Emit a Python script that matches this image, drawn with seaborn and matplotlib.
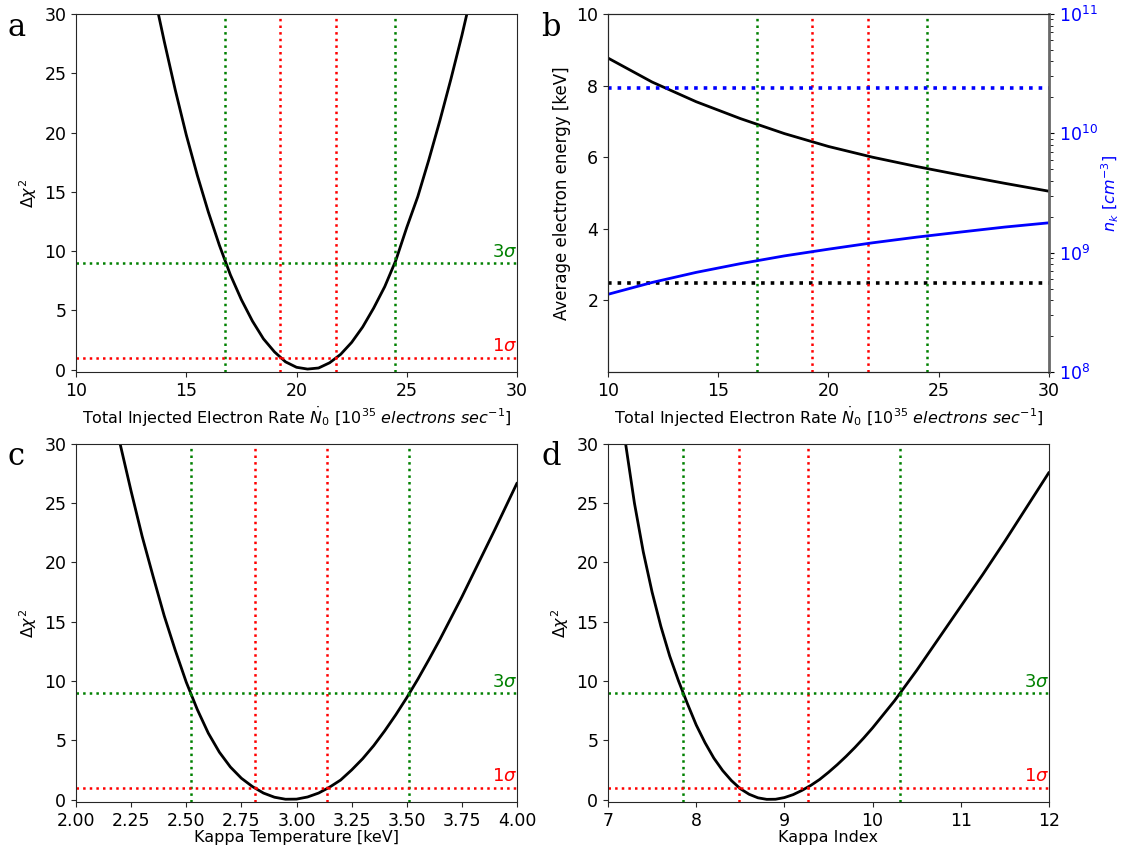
import matplotlib
matplotlib.use("Agg")
import matplotlib.pyplot as plt
import seaborn as sns

# ── Data ───────────────────────────────────────────────────────────────────────
# a: delta chi^2 vs total injected electron rate
rate_a = [13.7, 14.0, 14.5, 15.0, 15.5, 16.0, 16.5, 17.0, 17.5, 18.0, 18.5, 19.0, 19.5,
          20.0, 20.5, 21.0, 21.5, 22.0, 22.5, 23.0, 23.5, 24.0, 24.5, 25.0, 25.5, 26.0,
          26.5, 27.0, 27.5, 27.8]
dchi2_rate = [30.3, 27.7, 23.6, 19.8, 16.4, 13.3, 10.5, 8.0, 5.9, 4.1, 2.6, 1.5, 0.66,
              0.2, 0.05, 0.14, 0.58, 1.29, 2.3, 3.6, 5.2, 7.0, 9.2, 12.0, 14.6, 17.7,
              21.0, 24.5, 28.2, 30.6]

# b: average electron energy and kappa density vs rate
rate_b = [10, 12, 14, 16, 18, 20, 22, 24, 26, 28, 30]
avg_energy = [8.77, 8.1, 7.55, 7.08, 6.66, 6.3, 6.0, 5.74, 5.5, 5.27, 5.05]
density = [4.48e8, 5.63e8, 6.84e8, 8.09e8, 9.4e8, 1.07e9, 1.21e9, 1.35e9, 1.49e9,
           1.64e9, 1.78e9]
energy_limit = 2.5
density_limit = 2.4e10

# c: delta chi^2 vs kappa temperature
temp = [2.20, 2.25, 2.30, 2.35, 2.40, 2.45, 2.50, 2.55, 2.60, 2.65, 2.70, 2.75, 2.80,
        2.85, 2.90, 2.95, 3.00, 3.05, 3.10, 3.15, 3.20, 3.25, 3.30, 3.35, 3.40, 3.45,
        3.50, 3.55, 3.60, 3.65, 3.70, 3.75, 3.80, 3.85, 3.90, 3.95, 4.00]
dchi2_temp = [30.0, 26.0, 22.2, 18.8, 15.5, 12.6, 9.9, 7.6, 5.6, 4.0, 2.75, 1.8, 1.1,
              0.55, 0.2, 0.03, 0.04, 0.22, 0.55, 1.05, 1.65, 2.5, 3.45, 4.55, 5.8, 7.15,
              8.6, 10.15, 11.8, 13.5, 15.3, 17.1, 19.0, 20.9, 22.8, 24.75, 26.7]

# d: delta chi^2 vs kappa index
kappa = [7.2, 7.3, 7.4, 7.5, 7.6, 7.7, 7.8, 7.9, 8.0, 8.1, 8.2, 8.3, 8.4, 8.5, 8.6, 8.7,
         8.8, 8.9, 9.0, 9.1, 9.2, 9.3, 9.4, 9.5, 9.6, 9.7, 9.8, 9.9, 10.0, 10.25, 10.5,
         10.75, 11.0, 11.25, 11.5, 11.75, 12.0]
dchi2_kappa = [30.0, 25.0, 20.9, 17.5, 14.6, 12.1, 10.0, 8.1, 6.3, 4.8, 3.5, 2.45, 1.6,
               0.92, 0.45, 0.15, 0.02, 0.03, 0.17, 0.42, 0.78, 1.2, 1.7, 2.3, 2.95, 3.65,
               4.4, 5.2, 6.05, 8.35, 10.9, 13.6, 16.3, 19.0, 21.8, 24.7, 27.6]

# confidence bounds (1 sigma, 3 sigma)
rate_1sig = [19.25, 21.8]
rate_3sig = [16.75, 24.45]
temp_1sig = [2.81, 3.14]
temp_3sig = [2.52, 3.51]
kappa_1sig = [8.48, 9.27]
kappa_3sig = [7.855, 10.31]

RATE_LABEL = r"Total Injected Electron Rate $\dot{N}_0$ [$10^{35}$ $electrons\ sec^{-1}$]"

sns.set_style("ticks")
plt.rcParams["font.family"] = ["DejaVu Sans"]
plt.rcParams.update({
    "font.size": 11.5,
    "xtick.labelsize": 12.5,
    "ytick.labelsize": 12.5,
    "text.color": "black",
    "axes.labelcolor": "black",
    "xtick.labelcolor": "black",
    "ytick.labelcolor": "black",
})

fig = plt.figure(figsize=(11.23, 8.49), dpi=100)
W, H = 0.3927, 0.4217
ax_a = fig.add_axes([0.0677, 0.5618, W, H])
ax_b = fig.add_axes([0.5414, 0.5618, W, H])
ax_c = fig.add_axes([0.0677, 0.0554, W, H])
ax_d = fig.add_axes([0.5414, 0.0554, W, H])


def bounds(ax, one, three, sigma_text=True):
    for v in three:
        ax.axvline(v, color="green", ls=":", lw=1.8)
    for v in one:
        ax.axvline(v, color="red", ls=":", lw=1.8)
    if sigma_text:
        ax.axhline(9, color="green", ls=":", lw=1.8)
        ax.axhline(1, color="red", ls=":", lw=1.8)
        tr = ax.get_yaxis_transform()
        ax.text(1.0, 9.2, r"$3\sigma$", color="green", ha="right", va="bottom",
                fontsize=13, transform=tr)
        ax.text(1.0, 1.2, r"$1\sigma$", color="red", ha="right", va="bottom",
                fontsize=13, transform=tr)


def chi2_panel(ax, x, y, one, three, xlim, xlabel, pad=4):
    sns.lineplot(x=x, y=y, ax=ax, color="black", lw=2)
    bounds(ax, one, three)
    ax.set_xlim(*xlim)
    ax.set_ylim(-0.2, 30)
    ax.set_xlabel(xlabel, labelpad=pad)
    ax.set_ylabel(r"$\Delta\chi^2$")


chi2_panel(ax_a, rate_a, dchi2_rate, rate_1sig, rate_3sig, (10, 30), RATE_LABEL)
ax_a.set_xticks([10, 15, 20, 25, 30])
chi2_panel(ax_c, temp, dchi2_temp, temp_1sig, temp_3sig, (2, 4),
           "Kappa Temperature [keV]", pad=0)
chi2_panel(ax_d, kappa, dchi2_kappa, kappa_1sig, kappa_3sig, (7, 12), "Kappa Index", pad=0)

# ── Panel b: energy (left) and density (right, log) ───────────────────────────
sns.lineplot(x=rate_b, y=avg_energy, ax=ax_b, color="black", lw=2)
ax_b.axhline(energy_limit, color="black", ls=":", lw=2.6)
bounds(ax_b, rate_1sig, rate_3sig, sigma_text=False)
ax_b.set_xlim(10, 30)
ax_b.set_xticks([10, 15, 20, 25, 30])
ax_b.set_ylim(0, 10)
ax_b.set_yticks([2, 4, 6, 8, 10])
ax_b.set_xlabel(RATE_LABEL)
ax_b.set_ylabel("Average electron energy [keV]", fontsize=12)

ax_n = ax_b.twinx()
ax_n.set_yscale("log")
sns.lineplot(x=rate_b, y=density, ax=ax_n, color="blue", lw=2)
ax_n.axhline(density_limit, color="blue", ls=":", lw=2.6)
ax_n.set_ylim(1e8, 1e11)
ax_n.set_xlim(10, 30)
ax_n.set_ylabel(r"$n_k$ [$cm^{-3}$]", color="blue", fontsize=11.5, labelpad=2)
ax_n.tick_params(axis="y", which="both", labelcolor="blue", color="black")
ax_n.tick_params(axis="y", which="minor", length=3)
ax_n.spines["right"].set_color("dimgray")
ax_n.spines["right"].set_linewidth(2)

# panel letters
for label, (x, y) in zip("abcd", [(0.007, 0.968), (0.482, 0.968), (0.007, 0.462), (0.482, 0.462)]):
    fig.text(x, y, label, fontsize=22, family="DejaVu Serif", va="center")

fig.savefig("out.png", dpi=100)
